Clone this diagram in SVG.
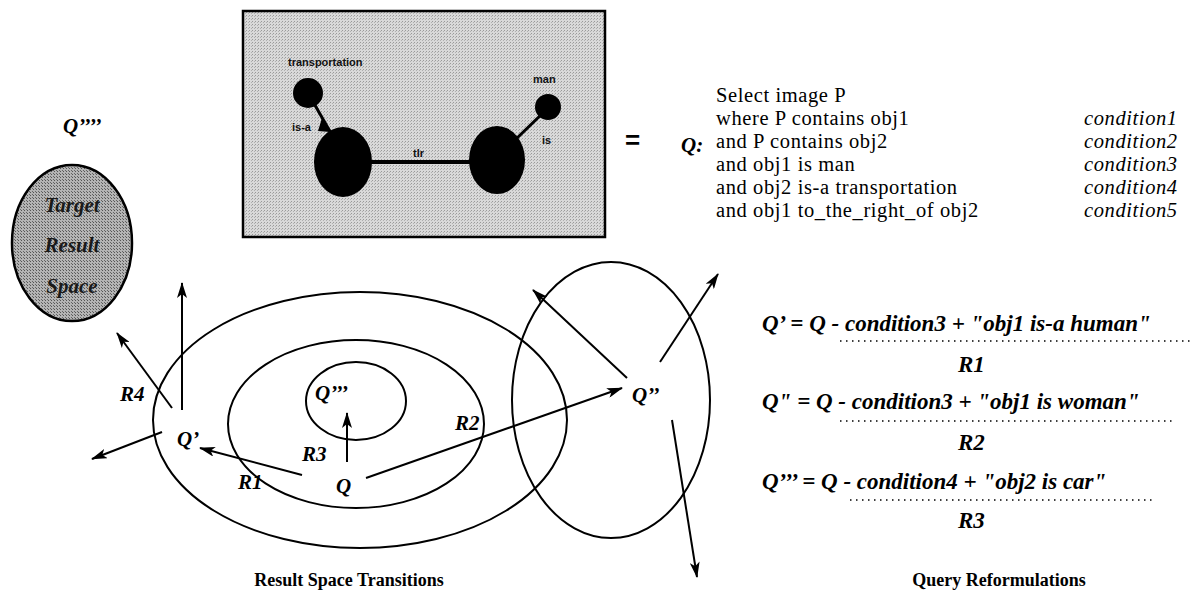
<svg xmlns="http://www.w3.org/2000/svg" width="1192" height="604" viewBox="0 0 1192 604">
<style>
.ln{fill:none;stroke:#000;stroke-width:2}
.lbl{font-family:"Liberation Serif",serif;font-weight:bold;font-style:italic;font-size:21px;fill:#000}
.q{font-family:"Liberation Serif",serif;font-size:20.5px;letter-spacing:0.6px;fill:#000}
.qi{font-family:"Liberation Serif",serif;font-style:italic;font-size:20.5px;letter-spacing:0.6px;fill:#000}
.eq{font-family:"Liberation Serif",serif;font-weight:bold;font-style:italic;font-size:23px;fill:#000}
.cap{font-family:"Liberation Serif",serif;font-weight:bold;font-size:18px;fill:#000;text-anchor:middle}
.g{font-family:"Liberation Sans",sans-serif;font-weight:bold;font-size:11px;fill:#111}
.dot{stroke:#000;stroke-width:1.5;stroke-dasharray:1.5 4.5;fill:none}
</style>
<defs>
<marker id="ah" viewBox="0 0 16 10" refX="15" refY="5" markerWidth="16" markerHeight="10" markerUnits="userSpaceOnUse" orient="auto">
<path d="M0,0 L16,5 L0,10 L4,5 Z" fill="#000"/>
</marker>
<pattern id="dith" width="3" height="3" patternUnits="userSpaceOnUse">
<rect width="3" height="3" fill="#d9d9d9"/>
<rect x="0" y="0" width="1" height="1" fill="#9a9a9a"/>
<rect x="2" y="1" width="1" height="1" fill="#b0b0b0"/>
</pattern>
<pattern id="dith2" width="3" height="3" patternUnits="userSpaceOnUse">
<rect width="3" height="3" fill="#b4b4b4"/>
<rect x="0" y="0" width="1" height="1" fill="#555"/>
<rect x="2" y="2" width="1" height="1" fill="#666"/>
</pattern>
</defs>

<g id="query-graph">
<rect x="243" y="11" width="362" height="226" fill="url(#dith)" stroke="#000" stroke-width="2.5"/>
<line x1="342" y1="162" x2="497" y2="162" stroke="#000" stroke-width="4"/>
<line x1="312" y1="100" x2="332" y2="135" stroke="#000" stroke-width="3"/>
<path d="M322,118 L330,132 L318,131 Z" fill="#000"/>
<line x1="546" y1="110" x2="515" y2="140" stroke="#000" stroke-width="3"/>
<circle cx="308" cy="93" r="15" fill="#000"/>
<circle cx="548" cy="107" r="13" fill="#000"/>
<ellipse cx="343" cy="162" rx="29" ry="35" fill="#000"/>
<ellipse cx="497" cy="160" rx="28" ry="34" fill="#000"/>
<text class="g" x="288" y="66">transportation</text>
<text class="g" x="533" y="83">man</text>
<text class="g" x="292" y="131">is-a</text>
<text class="g" x="542" y="144">is</text>
<text class="g" x="413" y="157">tlr</text>
</g>

<g id="query-text">
<text x="625" y="149" style="font-family:'Liberation Sans',sans-serif;font-weight:bold;font-size:26px">=</text>
<text class="lbl" x="681" y="152">Q:</text>
<text class="q" x="716" y="102">Select image P</text>
<text class="q" x="716" y="125">where P contains obj1</text>
<text class="q" x="716" y="148">and P contains obj2</text>
<text class="q" x="716" y="171">and obj1 is man</text>
<text class="q" x="716" y="194">and obj2 is-a transportation</text>
<text class="q" x="716" y="217">and obj1 to_the_right_of obj2</text>
<text class="qi" x="1084" y="125">condition1</text>
<text class="qi" x="1084" y="148">condition2</text>
<text class="qi" x="1084" y="171">condition3</text>
<text class="qi" x="1084" y="194">condition4</text>
<text class="qi" x="1084" y="217">condition5</text>
</g>

<g id="target-space">
<text class="lbl" x="63" y="133">Q’’’’</text>
<ellipse cx="72" cy="243" rx="60" ry="78" fill="url(#dith2)" stroke="#000" stroke-width="2.5"/>
<text class="lbl" x="72" y="212" text-anchor="middle" style="font-size:21px;fill:#1a1a1a">Target</text>
<text class="lbl" x="72" y="252" text-anchor="middle" style="font-size:21px;fill:#1a1a1a">Result</text>
<text class="lbl" x="72" y="293" text-anchor="middle" style="font-size:21px;fill:#1a1a1a">Space</text>
</g>

<g id="space-outer"><ellipse class="ln" cx="360" cy="420" rx="207" ry="128"/></g>
<g id="space-middle"><ellipse class="ln" cx="356" cy="424" rx="128" ry="84"/></g>
<g id="space-inner"><ellipse class="ln" cx="356" cy="401" rx="50" ry="39"/><text class="lbl" x="315" y="400">Q’’’</text></g>
<g id="space-right"><ellipse class="ln" cx="611" cy="400" rx="99" ry="138"/><text class="lbl" x="632" y="402">Q’’</text></g>
<g id="node-q"><text class="lbl" x="336" y="493">Q</text></g>
<g id="node-qp"><text class="lbl" x="177" y="446">Q’</text></g>

<g id="connectors" stroke="#000" stroke-width="2" fill="none">
<line x1="347" y1="462" x2="347" y2="413" marker-end="url(#ah)"/>
<line x1="302" y1="475" x2="200" y2="448" marker-end="url(#ah)"/>
<line x1="366" y1="478" x2="622" y2="388" marker-end="url(#ah)"/>
<line x1="182" y1="410" x2="182" y2="283" marker-end="url(#ah)"/>
<line x1="172" y1="408" x2="117" y2="333" marker-end="url(#ah)"/>
<line x1="162" y1="432" x2="92" y2="459" marker-end="url(#ah)"/>
<line x1="627" y1="378" x2="533" y2="290" marker-end="url(#ah)"/>
<line x1="660" y1="362" x2="718" y2="274" marker-end="url(#ah)"/>
<line x1="672" y1="420" x2="697" y2="577" marker-end="url(#ah)"/>
</g>

<g id="edge-labels">
<text class="lbl" x="120" y="401">R4</text>
<text class="lbl" x="238" y="489">R1</text>
<text class="lbl" x="302" y="461">R3</text>
<text class="lbl" x="455" y="430">R2</text>
</g>

<g id="reformulations">
<text class="eq" x="762" y="331">Q’ = Q - condition3 + "obj1 is-a human"</text>
<line class="dot" x1="840" y1="341" x2="1192" y2="341"/>
<text class="eq" x="958" y="372">R1</text>
<text class="eq" x="762" y="409">Q" = Q - condition3 + "obj1 is woman"</text>
<line class="dot" x1="840" y1="421" x2="1173" y2="421"/>
<text class="eq" x="958" y="450">R2</text>
<text class="eq" x="762" y="489">Q’’’ = Q - condition4 + "obj2 is car"</text>
<line class="dot" x1="850" y1="500" x2="1152" y2="500"/>
<text class="eq" x="958" y="528">R3</text>
</g>

<g id="captions">
<text class="cap" x="349" y="586">Result Space Transitions</text>
<text class="cap" x="999" y="586">Query Reformulations</text>
</g>
</svg>
